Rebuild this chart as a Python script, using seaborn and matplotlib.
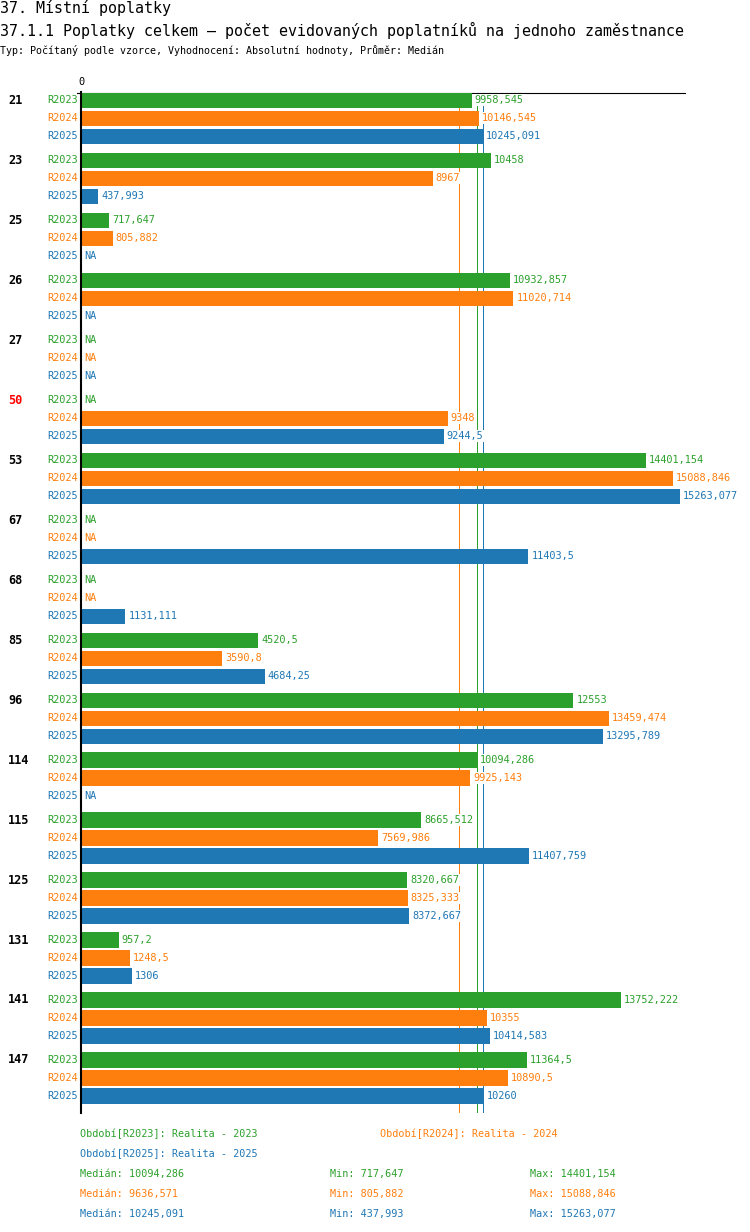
import math
import numpy as np
import pandas as pd
import matplotlib
matplotlib.use("Agg")
import matplotlib.pyplot as plt
import matplotlib.transforms as mtransforms
import seaborn as sns

# ---------------- data ----------------
groups = ["21", "23", "25", "26", "27", "50", "53", "67", "68", "85",
          "96", "114", "115", "125", "131", "141", "147"]
highlight = ["50"]
periods = ["R2023", "R2024", "R2025"]
period_names = ["Realita - 2023", "Realita - 2024", "Realita - 2025"]
nan = np.nan
r2023 = [9958.545, 10458, 717.647, 10932.857, nan, nan, 14401.154, nan, nan,
         4520.5, 12553, 10094.286, 8665.512, 8320.667, 957.2, 13752.222, 11364.5]
r2024 = [10146.545, 8967, 805.882, 11020.714, nan, 9348, 15088.846, nan, nan,
         3590.8, 13459.474, 9925.143, 7569.986, 8325.333, 1248.5, 10355, 10890.5]
r2025 = [10245.091, 437.993, nan, nan, nan, 9244.5, 15263.077, 11403.5, 1131.111,
         4684.25, 13295.789, nan, 11407.759, 8372.667, 1306, 10414.583, 10260]
series = [r2023, r2024, r2025]
colors = ["#2ca02c", "#ff7f0e", "#1f77b4"]

plt.rcParams["font.family"] = ["DejaVu Sans Mono", "DejaVu Sans"]

W, H = 750, 1232
GROUP_STEP = 60 / 18.0

rows = []
for g, grp in enumerate(groups):
    for r, per in enumerate(periods):
        rows.append({"group": grp, "period": per, "pos": g * GROUP_STEP + r,
                     "value": series[r][g]})
df = pd.DataFrame(rows)


def fmt(v):
    t = math.floor(v * 1000 + 1e-6) / 1000
    s = f"{t:.3f}".rstrip("0").rstrip(".")
    return s.replace(".", ",")


fig = plt.figure(figsize=(W / 100, H / 100), dpi=100)
ax_left, ax_right, ax_top, ax_bottom = 81, 685, 92.5, 1112.7
ax = fig.add_axes([ax_left / W, 1 - ax_bottom / H, (ax_right - ax_left) / W,
                   (ax_bottom - ax_top) / H])

sns.barplot(data=df.dropna(subset=["value"]), x="value", y="pos", hue="period",
            hue_order=periods, palette=colors, orient="h", native_scale=True,
            dodge=False, width=0.84, errorbar=None, legend=False, saturation=1,
            linewidth=0, ax=ax, zorder=3)

vmax = np.nanmax(np.array(series, dtype=float))
xmax = vmax * 1.0087
ax.set_xlim(0, xmax)
last = (len(groups) - 1) * GROUP_STEP + 2
ax.set_ylim(last + 0.93, -0.43)

# median lines
for s, c in zip(series, colors):
    ax.axvline(np.nanmedian(s), color=c, lw=0.68, zorder=1, antialiased=False)

# value labels
for _, row in df.iterrows():
    c = colors[periods.index(row["period"])]
    v = row["value"]
    if np.isnan(v):
        txt, x = "NA", 0
    else:
        txt, x = fmt(v), v
    ax.annotate(txt, xy=(x, row["pos"]), xytext=(3, 0), textcoords="offset pixels",
                ha="left", va="center", color=c, fontsize=7.4, zorder=5,
                bbox=dict(boxstyle="square,pad=0.12", fc="white", ec="none"))

# row labels and group labels
trans = mtransforms.blended_transform_factory(fig.transFigure, ax.transData)
for _, row in df.iterrows():
    c = colors[periods.index(row["period"])]
    fig.text(78 / W, row["pos"], row["period"], transform=trans, ha="right",
             va="center", color=c, fontsize=7.4)
for g, grp in enumerate(groups):
    fig.text(8 / W, g * GROUP_STEP, grp, transform=trans, ha="left", va="center",
             color="#ff0000" if grp in highlight else "black", fontsize=8.6,
             fontweight="bold")

# axes styling
for sp in ["right", "bottom"]:
    ax.spines[sp].set_visible(False)
ax.spines["left"].set_linewidth(1.5)
ax.spines["left"].set_zorder(6)
ax.spines["top"].set_linewidth(0.8)
ax.spines["top"].set_bounds(-xmax * 4 / 604, xmax)
ax.set_yticks([])
ax.xaxis.tick_top()
ax.set_xticks([0])
ax.set_xticklabels(["0"])
ax.tick_params(axis="x", length=0, pad=4, labelsize=7.4)
ax.set_xlabel("")
ax.set_ylabel("")

# titles
fig.text(0, 1 - 8 / H, "37. Místní poplatky", ha="left", va="center",
         fontsize=10.8)
fig.text(0, 1 - 30 / H,
         "37.1.1 Poplatky celkem – počet evidovaných poplatníků na jednoho zaměstnance",
         ha="left", va="center", fontsize=10.8)
fig.text(0, 1 - 50 / H,
         "Typ: Počítaný podle vzorce, Vyhodnocení: Absolutní hodnoty, Průměr: Medián",
         ha="left", va="center", fontsize=7.2)

# footer legend
legend_pos = [(80, 1134), (380, 1134), (80, 1154)]
for (px, py), per, name, c in zip(legend_pos, periods, period_names, colors):
    fig.text(px / W, 1 - py / H, f"Období[{per}]: {name}", ha="left", va="center",
             color=c, fontsize=7.3)
for i, (s, c) in enumerate(zip(series, colors)):
    py = 1174 + 20 * i
    fig.text(80 / W, 1 - py / H, f"Medián: {fmt(np.nanmedian(s))}", ha="left",
             va="center", color=c, fontsize=7.3)
    fig.text(330 / W, 1 - py / H, f"Min: {fmt(np.nanmin(s))}", ha="left",
             va="center", color=c, fontsize=7.3)
    fig.text(530 / W, 1 - py / H, f"Max: {fmt(np.nanmax(s))}", ha="left",
             va="center", color=c, fontsize=7.3)

fig.savefig("out.png", dpi=100, facecolor="white")
